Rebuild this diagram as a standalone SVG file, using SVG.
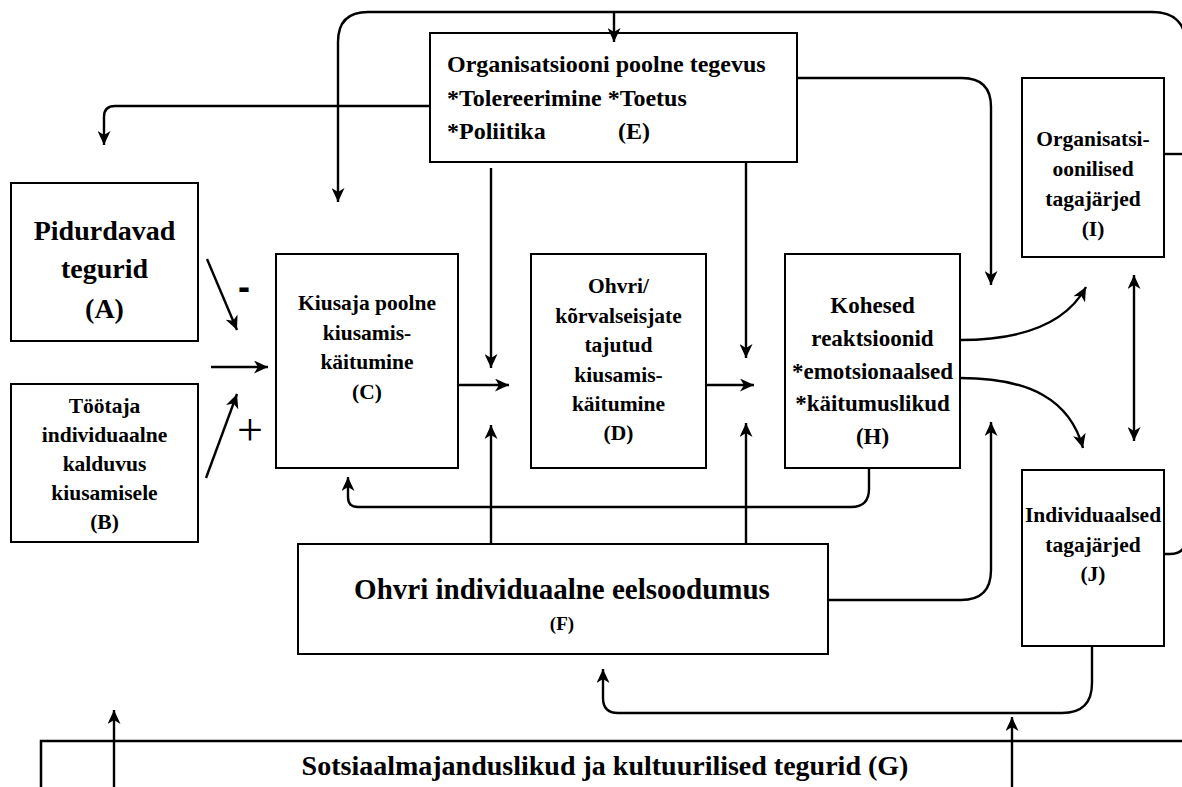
<svg xmlns="http://www.w3.org/2000/svg" width="1182" height="787" viewBox="0 0 1182 787">
<defs>
<marker id="ah" viewBox="0 0 14 13" refX="14" refY="6.5" markerWidth="14" markerHeight="13" markerUnits="userSpaceOnUse" orient="auto-start-reverse">
<path d="M0,0 L14,6.5 L0,13 L4,6.5 Z" fill="#000"/>
</marker>
</defs>
<style>
.box{fill:#fff;stroke:#000;stroke-width:2}
.t{font-family:"Liberation Serif","Times New Roman",serif;font-weight:bold;fill:#000;text-anchor:middle}
.s{font-size:21.5px}
.c{fill:none;stroke:#000;stroke-width:2.4}
.a{marker-end:url(#ah)}
.sign{font-family:"Liberation Serif","Times New Roman",serif;fill:#000;text-anchor:middle}
</style>
<rect width="1182" height="787" fill="#fff"/>

<g id="nodeA">
<rect class="box" x="11" y="183" width="187" height="158"/>
<text class="t" font-size="28" x="104.5" y="240">Pidurdavad</text>
<text class="t" font-size="28" x="104.5" y="278">tegurid</text>
<text class="t" font-size="28" x="104.5" y="318">(A)</text>
</g>
<g id="nodeB">
<rect class="box" x="11" y="384" width="187" height="158"/>
<text class="t s" x="104.5" y="413">Töötaja</text>
<text class="t s" x="104.5" y="442">individuaalne</text>
<text class="t s" x="104.5" y="471">kalduvus</text>
<text class="t s" x="104.5" y="500">kiusamisele</text>
<text class="t s" x="104.5" y="529">(B)</text>
</g>
<g id="nodeC">
<rect class="box" x="276" y="254" width="182" height="214"/>
<text class="t s" x="367" y="310">Kiusaja poolne</text>
<text class="t s" x="367" y="339.5">kiusamis-</text>
<text class="t s" x="367" y="369">käitumine</text>
<text class="t s" x="367" y="399">(C)</text>
</g>
<g id="nodeD">
<rect class="box" x="531" y="254" width="175" height="214"/>
<text class="t s" x="618.5" y="293">Ohvri/</text>
<text class="t s" x="618.5" y="322.5">kõrvalseisjate</text>
<text class="t s" x="618.5" y="352">tajutud</text>
<text class="t s" x="618.5" y="381.5">kiusamis-</text>
<text class="t s" x="618.5" y="411">käitumine</text>
<text class="t s" x="618.5" y="440">(D)</text>
</g>
<g id="nodeE">
<rect class="box" x="430" y="33" width="367" height="129"/>
<text class="t" font-size="24" x="447" y="72" text-anchor="start" style="text-anchor:start">Organisatsiooni poolne tegevus</text>
<text class="t" font-size="24" x="447" y="105.5" style="text-anchor:start">*Tolereerimine *Toetus</text>
<text class="t" font-size="24" x="447" y="139" style="text-anchor:start">*Poliitika</text>
<text class="t" font-size="24" x="618" y="139" style="text-anchor:start">(E)</text>
</g>
<g id="nodeF">
<rect class="box" x="298" y="544" width="530" height="110"/>
<text class="t" font-size="29" x="562" y="599">Ohvri individuaalne eelsoodumus</text>
<text class="t" font-size="19" x="562" y="630">(F)</text>
</g>
<g id="nodeG">
<rect class="box" x="41" y="741" width="1170" height="70" style="stroke-width:2.5"/>
<text class="t" font-size="28" x="605" y="775">Sotsiaalmajanduslikud ja kultuurilised tegurid (G)</text>
</g>
<g id="nodeH">
<rect class="box" x="785" y="254" width="175" height="214"/>
<text class="t" font-size="23" x="872.5" y="313">Kohesed</text>
<text class="t" font-size="23" x="872.5" y="345.75">reaktsioonid</text>
<text class="t" font-size="23" x="872.5" y="378.5">*emotsionaalsed</text>
<text class="t" font-size="23" x="872.5" y="411.25">*käitumuslikud</text>
<text class="t" font-size="23" x="872.5" y="444">(H)</text>
</g>
<g id="nodeI">
<rect class="box" x="1022" y="78" width="142" height="179"/>
<text class="t s" x="1093" y="146">Organisatsi-</text>
<text class="t s" x="1093" y="176">oonilised</text>
<text class="t s" x="1093" y="206">tagajärjed</text>
<text class="t s" x="1093" y="236">(I)</text>
</g>
<g id="nodeJ">
<rect class="box" x="1022" y="470" width="142" height="176"/>
<text class="t s" x="1093" y="522">Individuaalsed</text>
<text class="t s" x="1093" y="551.5">tagajärjed</text>
<text class="t s" x="1093" y="581">(J)</text>
</g>

<g id="connectors">
<path class="c a" d="M1186,540 L1186,46 Q1186,12 1152,12 L368,12 Q338,12 338,42 L338,202"/>
<path class="c" d="M1164,154 L1190,154"/>
<path class="c" d="M1164,554 L1170,554 Q1186,554 1186,538"/>
<path class="c a" d="M614,12 L614,42"/>
<path class="c a" d="M430,106 L115,106 Q104,106 104,117 L104,145"/>
<path class="c a" d="M491,168 L491,368"/>
<path class="c a" d="M746,162 L746,358"/>
<path class="c a" d="M797,78 L962,78 Q991,78 991,107 L991,285"/>
<path class="c a" d="M207,259 L237,330"/>
<path class="c a" d="M211,367 L268,367"/>
<path class="c a" d="M206,478 L237,394"/>
<path class="c a" d="M458,385 L509,385"/>
<path class="c a" d="M706,385 L754,385"/>
<path class="c a" d="M491,544 L491,425"/>
<path class="c a" d="M746,544 L746,423"/>
<path class="c a" d="M869,468 L869,489 Q869,507 851,507 L358,507 Q348,507 348,497 L348,477"/>
<path class="c a" d="M828,600 L961,600 Q991,600 991,570 L991,422"/>
<path class="c a" d="M960,340 C1030,340 1068,320 1086,287"/>
<path class="c a" d="M960,378 C1030,378 1070,400 1083,448"/>
<path class="c a" d="M1134,275 L1134,441" marker-start="url(#ah)"/>
<path class="c a" d="M1092,646 L1092,683 Q1092,713 1062,713 L618,713 Q603,713 603,698 L603,669"/>
<path class="c a" d="M114,790 L114,710"/>
<path class="c a" d="M1012,790 L1012,717"/>
</g>
<text class="sign" font-size="36" font-weight="bold" x="244" y="299" style="font-family:'Liberation Sans',Arial,sans-serif">-</text>
<text class="sign" font-size="46" x="250" y="445">+</text>
</svg>
